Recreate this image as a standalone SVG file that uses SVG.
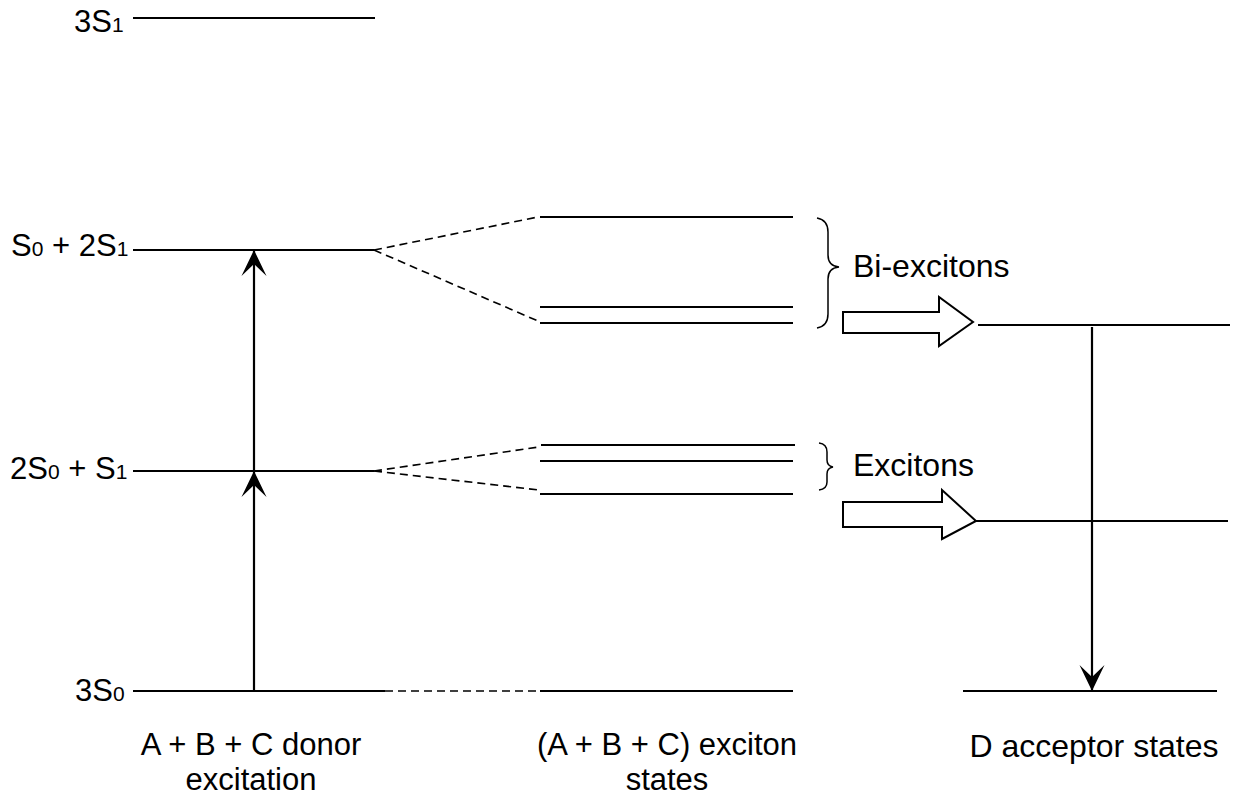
<svg xmlns="http://www.w3.org/2000/svg" width="1233" height="798" viewBox="0 0 1233 798">
<style>
.lvl{stroke:#000;stroke-width:2.2;fill:none}
.dash{stroke:#000;stroke-width:1.6;fill:none;stroke-dasharray:8 5}
.arr{stroke:#000;stroke-width:2.2;fill:none}
.blk{stroke:#000;stroke-width:2;fill:#fff;stroke-linejoin:miter}
.br{stroke:#000;stroke-width:1.5;fill:none}
text{font-family:"Liberation Sans",Arial,sans-serif;font-size:31px;fill:#000}
.big{font-size:32px}
.sub{font-size:21px}
.c{text-anchor:middle}
</style>
<defs>
<marker id="ah" markerUnits="userSpaceOnUse" viewBox="0 0 26 26" refX="26" refY="13" markerWidth="26" markerHeight="26" orient="auto">
<path d="M0,0.5 L26,13 L0,25.5 L12,13 Z" fill="#000"/>
</marker>
</defs>
<g id="donor-3S1"><line class="lvl" x1="133" y1="18" x2="375" y2="18"/><text x="74" y="32">3S<tspan class="sub">1</tspan></text></g>
<g id="donor-S0-2S1"><line class="lvl" x1="133" y1="250" x2="374" y2="250"/><text x="11" y="256">S<tspan class="sub">0</tspan> + 2S<tspan class="sub">1</tspan></text></g>
<g id="donor-2S0-S1"><line class="lvl" x1="133" y1="471" x2="374" y2="471"/><text x="10" y="479">2S<tspan class="sub">0</tspan> + S<tspan class="sub">1</tspan></text></g>
<g id="donor-3S0"><line class="lvl" x1="133" y1="691" x2="385" y2="691"/><text x="75" y="701">3S<tspan class="sub">0</tspan></text></g>
<g id="exciton-bi"><line class="lvl" x1="540" y1="217" x2="793" y2="217"/><line class="lvl" x1="540" y1="307" x2="793" y2="307"/><line class="lvl" x1="540" y1="323" x2="793" y2="323"/></g>
<g id="exciton-single"><line class="lvl" x1="541" y1="445" x2="795" y2="445"/><line class="lvl" x1="540" y1="461" x2="793" y2="461"/><line class="lvl" x1="540" y1="494" x2="793" y2="494"/></g>
<g id="exciton-ground"><line class="lvl" x1="540" y1="691" x2="793" y2="691"/></g>
<g id="acceptor-upper"><line class="lvl" x1="978" y1="325" x2="1230" y2="325"/></g>
<g id="acceptor-lower"><line class="lvl" x1="976" y1="521" x2="1228" y2="521"/></g>
<g id="acceptor-ground"><line class="lvl" x1="963" y1="691" x2="1217" y2="691"/></g>
<g id="bi-excitons-label"><path class="br" d="M817,218 Q828,220 828,232 L828,255 Q828,266 839,267 Q828,268 828,279 L828,314 Q828,326 817,328"/><text class="big" x="853" y="277">Bi-excitons</text></g>
<g id="excitons-label"><path class="br" d="M819,443 Q827,444 827,452 L827,460 Q827,466 833,467 Q827,468 827,474 L827,482 Q827,489 819,490"/><text class="big" x="853" y="476">Excitons</text></g>
<g id="labels">
<text class="c" x="251" y="755">A + B + C donor</text>
<text class="c" x="251" y="790">excitation</text>
<text class="c" x="667" y="755">(A + B + C) exciton</text>
<text class="c" x="667" y="790">states</text>
<text class="c big" x="1094" y="757">D acceptor states</text>
</g>
<g id="connectors">
<line class="dash" x1="374" y1="250" x2="538" y2="217"/>
<line class="dash" x1="374" y1="250" x2="538" y2="321"/>
<line class="dash" x1="374" y1="471" x2="539" y2="447"/>
<line class="dash" x1="374" y1="471" x2="539" y2="490"/>
<line class="dash" x1="385" y1="691" x2="540" y2="691"/>
<line class="arr" x1="254" y1="691" x2="254" y2="471" marker-end="url(#ah)"/>
<line class="arr" x1="254" y1="471" x2="254" y2="250" marker-end="url(#ah)"/>
<line class="arr" x1="1092" y1="327" x2="1092" y2="691" marker-end="url(#ah)"/>
<path class="blk" d="M843,312 L939,312 L939,297 L973,322 L939,346 L939,333 L843,333 Z"/>
<path class="blk" d="M843,502 L942,502 L942,490 L976,521 L942,539 L942,527 L843,527 Z"/>
</g>
</svg>
